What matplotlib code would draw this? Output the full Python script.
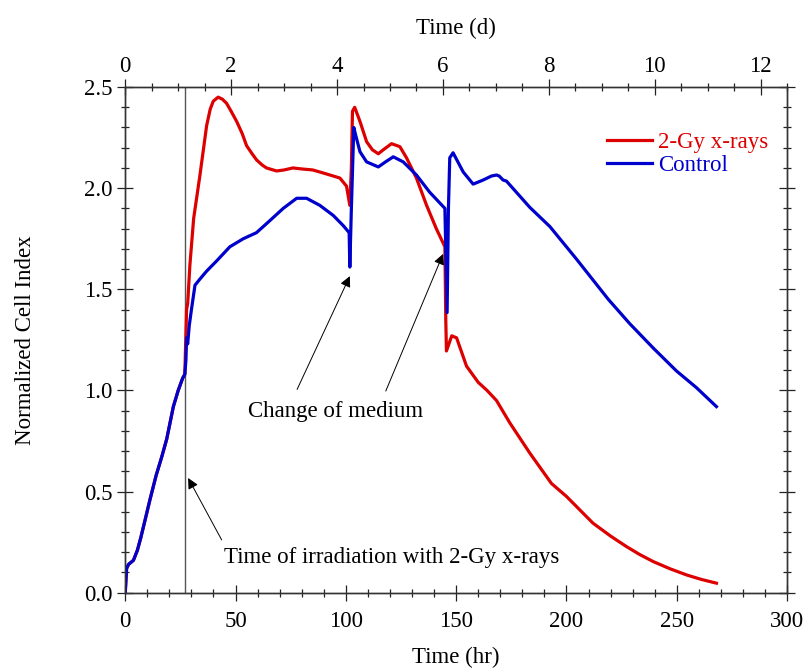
import matplotlib
matplotlib.use("Agg")
import matplotlib.pyplot as plt
from matplotlib.ticker import MultipleLocator, FormatStrFormatter

plt.rcParams['font.family'] = ['Liberation Serif', 'DejaVu Serif']
plt.rcParams['mathtext.fontset'] = 'stix'

# ---- data (hours, normalized cell index) ----
irr_x = [0, 0.6, 1.5, 3.7, 5.5, 7, 9, 11.2, 14, 16.5, 18.8, 21.8, 24, 26, 27]
irr_y = [0, 0.12, 0.14, 0.16, 0.21, 0.27, 0.36, 0.46, 0.58, 0.67, 0.76, 0.92, 1.00, 1.06, 1.08]

red_x = irr_x + [27.3, 27.8, 28.3, 29.3, 31, 33.8, 36.9, 38.5, 39.9, 42.1, 44, 45.9, 48, 50.5, 53,
                 55, 57.5, 59.5, 62, 64, 68.6, 72, 76, 80, 85, 91.3, 97.3, 100.3, 101.8, 102.5,
                 103, 104, 106.4, 109.4, 112, 114.7, 117, 120.7, 124.5, 127.5, 132, 136.6, 141,
                 144.9, 145.3, 145.6, 148, 150.2, 154.7, 160, 164, 168.3, 174.3, 183.4, 193.2,
                 200, 212, 220, 227.2, 233, 239.3, 247, 254.4, 261, 268]
red_y = irr_y + [1.20, 1.40, 1.43, 1.62, 1.85, 2.06, 2.31, 2.39, 2.43, 2.45, 2.44, 2.42, 2.38, 2.33,
                 2.27, 2.21, 2.17, 2.14, 2.115, 2.10, 2.085, 2.09, 2.10, 2.095, 2.09, 2.07, 2.05,
                 2.01, 1.915, 2.10, 2.38, 2.40, 2.33, 2.23, 2.19, 2.17, 2.19, 2.22, 2.205, 2.15,
                 2.05, 1.915, 1.80, 1.71, 1.35, 1.195, 1.27, 1.26, 1.12, 1.04, 1.00, 0.95, 0.84,
                 0.69, 0.54, 0.476, 0.344, 0.28, 0.228, 0.19, 0.154, 0.118, 0.088, 0.066, 0.047]

blue_x = irr_x + [27.5, 27.8, 28.3, 29, 30, 31.6, 33.8, 36.9, 41.4, 47.4, 53.5, 59.5, 65.6, 71.6,
                  77.7, 82.2, 88.2, 94.3, 98.8, 101.5, 101.8, 102.5, 103.6, 104.5, 106.4, 109.4,
                  114.7, 118, 121.5, 126, 132, 138, 144.9, 145.9, 146.5, 147.1, 148.6, 153.2,
                  157.7, 162.2, 166, 168.3, 169.5, 171.3, 172.8, 183.4, 192.5, 204.5, 219,
                  228.7, 239.3, 249.9, 258.9, 268]
blue_y = irr_y + [1.15, 1.26, 1.23, 1.32, 1.40, 1.52, 1.55, 1.59, 1.64, 1.71, 1.75, 1.78, 1.84, 1.90,
                  1.95, 1.95, 1.915, 1.865, 1.815, 1.78, 1.61, 1.90, 2.30, 2.26, 2.18, 2.13,
                  2.105, 2.13, 2.155, 2.13, 2.065, 1.98, 1.90, 1.385, 1.90, 2.15, 2.175, 2.08,
                  2.02, 2.04, 2.06, 2.065, 2.06, 2.04, 2.035, 1.905, 1.81, 1.65, 1.45,
                  1.33, 1.21, 1.096, 1.014, 0.92]

irradiation_time = 27
series_labels = ['2-Gy x-rays', 'Control']

RED = '#dd0000'
BLUE = '#0000cc'
FS = 16.5

fig = plt.figure(figsize=(8.04, 6.70), dpi=100)
ax = fig.add_axes([0.1558, 0.1154, 0.9789 - 0.1558, 0.8701 - 0.1154])

ax.plot(red_x, red_y, color=RED, lw=2.3, label=series_labels[0], zorder=3)
ax.plot(blue_x, blue_y, color=BLUE, lw=2.3, label=series_labels[1], zorder=4)
ax.axvline(irradiation_time, color='#555555', lw=1.0, zorder=2)

ax.set_xlim(0, 300)
ax.set_ylim(0, 2.5)
ax.xaxis.set_major_locator(MultipleLocator(50))
ax.xaxis.set_minor_locator(MultipleLocator(10))
ax.yaxis.set_major_locator(MultipleLocator(0.5))
ax.yaxis.set_minor_locator(MultipleLocator(0.1))
ax.yaxis.set_major_formatter(FormatStrFormatter('%.1f'))

for s in ax.spines.values():
    s.set_color('#333333')
    s.set_linewidth(1.0)

ax.tick_params(which='both', direction='inout', right=True, top=False,
               labelsize=FS, color='#222222', width=0.9)
ax.tick_params(which='major', length=12)
ax.tick_params(axis='x', which='major', pad=7)
ax.tick_params(axis='y', which='major', pad=3)
ax.tick_params(which='minor', length=6)

ax.set_xlabel('Time (hr)', fontsize=FS, labelpad=11)
ax.set_ylabel('Normalized Cell Index', fontsize=FS, labelpad=35)

ax2 = ax.twiny()
ax2.set_xlim(0, 300 / 24)
ax2.xaxis.set_major_locator(MultipleLocator(2))
ax2.xaxis.set_minor_locator(MultipleLocator(0.5))
ax2.tick_params(which='both', direction='inout', labelsize=FS, color='#222222', width=0.9)
ax2.tick_params(which='major', length=12, pad=1.5)
ax2.tick_params(which='minor', length=6)
ax2.set_xlabel('Time (d)', fontsize=FS, labelpad=15.5)
for s in ax2.spines.values():
    s.set_color('#333333')
    s.set_linewidth(1.0)

leg = ax.legend(loc='upper right', bbox_to_anchor=(0.985, 0.929), frameon=False,
                fontsize=FS, handlelength=1.95, handletextpad=0.25, labelspacing=0.1,
                labelcolor='linecolor', borderaxespad=0)

arrow = dict(arrowstyle='-|>', color='black', lw=0.7, mutation_scale=16,
             shrinkA=0, shrinkB=0)
ax.annotate('', xy=(101.8, 1.565), xytext=(77.9, 1.005), arrowprops=arrow)
ax.annotate('', xy=(144.1, 1.675), xytext=(118.1, 0.997), arrowprops=arrow)
ax.text(95.5, 0.895, 'Change of medium', fontsize=FS, ha='center', va='center')

ax.annotate('', xy=(28.5, 0.567), xytext=(43.7, 0.261), arrowprops=arrow)
ax.text(120.7, 0.172, 'Time of irradiation with 2-Gy x-rays', fontsize=FS,
        ha='center', va='center')

fig.savefig('out.png', dpi=100)
